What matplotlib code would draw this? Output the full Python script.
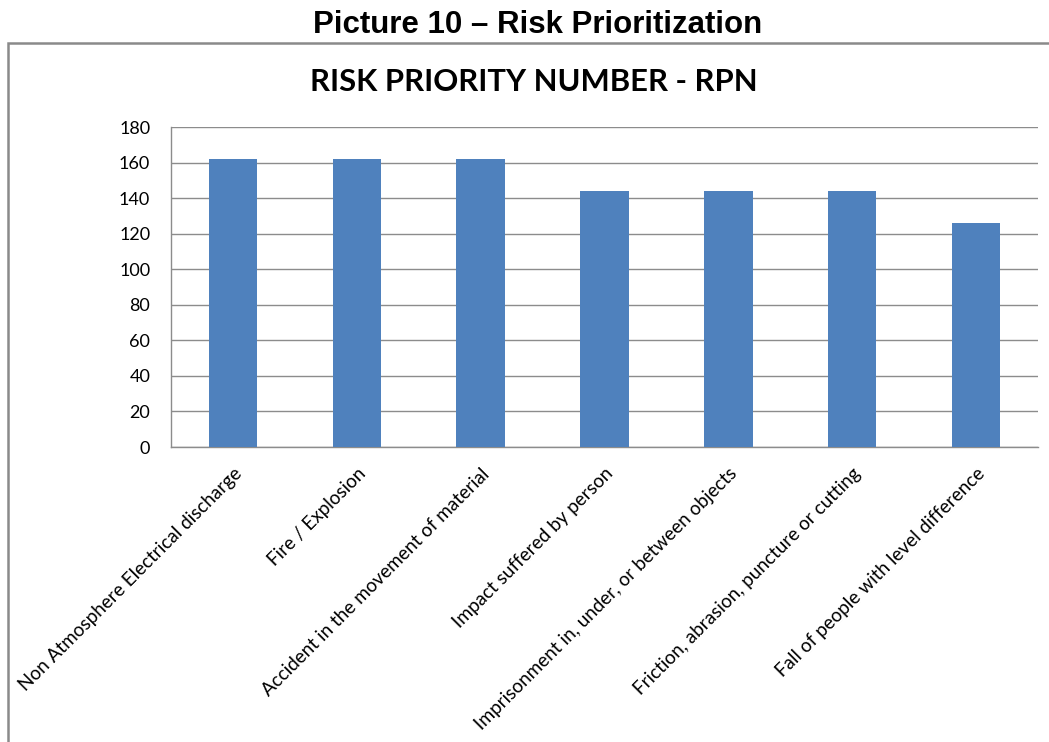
import matplotlib
matplotlib.use("Agg")
import matplotlib.pyplot as plt
from matplotlib.patches import Rectangle

categories = [
    "Non Atmosphere Electrical discharge",
    "Fire / Explosion",
    "Accident in the movement of material",
    "Impact suffered by person",
    "Imprisonment in, under, or between objects",
    "Friction, abrasion, puncture or cutting",
    "Fall of people with level difference",
]
rpn = [162, 162, 162, 144, 144, 144, 126]
yticks = [0, 20, 40, 60, 80, 100, 120, 140, 160, 180]

W, H = 1049, 742
fig = plt.figure(figsize=(W / 100, H / 100), dpi=100)

# outer frame of the embedded chart
fig.add_artist(Rectangle((8 / W, -0.05), 1.2, 1 - 43 / H + 0.05,
                         transform=fig.transFigure, fill=False,
                         edgecolor="#8a8a8a", linewidth=1.8))

fig.text(538 / W, 1 - 25 / H, "Picture 10 \u2013 Risk Prioritization",
         ha="center", va="center", fontsize=22.5, fontweight="bold",
         family="Liberation Sans")
fig.text(534 / W, 1 - 82 / H, "RISK PRIORITY NUMBER - RPN",
         ha="center", va="center", fontsize=22.3, fontweight="bold",
         family="Lato")

left, right, top, bottom = 171, 1038, 127, 447
ax = fig.add_axes([left / W, 1 - bottom / H, (right - left) / W, (bottom - top) / H])

x = range(len(categories))
ax.bar(x, rpn, width=0.39, color="#4F81BD", zorder=3)

ax.set_xlim(-0.5, len(categories) - 0.5)
ax.set_ylim(0, 180)
ax.set_yticks(yticks)
ax.set_yticklabels([str(v) for v in yticks], family="Lato", fontsize=13)
ax.set_xticks(list(x))
ax.set_xticklabels(categories, rotation=45, ha="right", rotation_mode="anchor",
                   family="Lato", fontsize=13.6)

ax.yaxis.grid(True, color="#8c8c8c", linewidth=1, zorder=0)
ax.tick_params(axis="both", length=0)
ax.tick_params(axis="y", pad=15)
ax.tick_params(axis="x", pad=13)
for s in ["top", "right"]:
    ax.spines[s].set_visible(False)
for s in ["left", "bottom"]:
    ax.spines[s].set_color("#8c8c8c")
    ax.spines[s].set_linewidth(1)

fig.savefig("out.png", dpi=100)
